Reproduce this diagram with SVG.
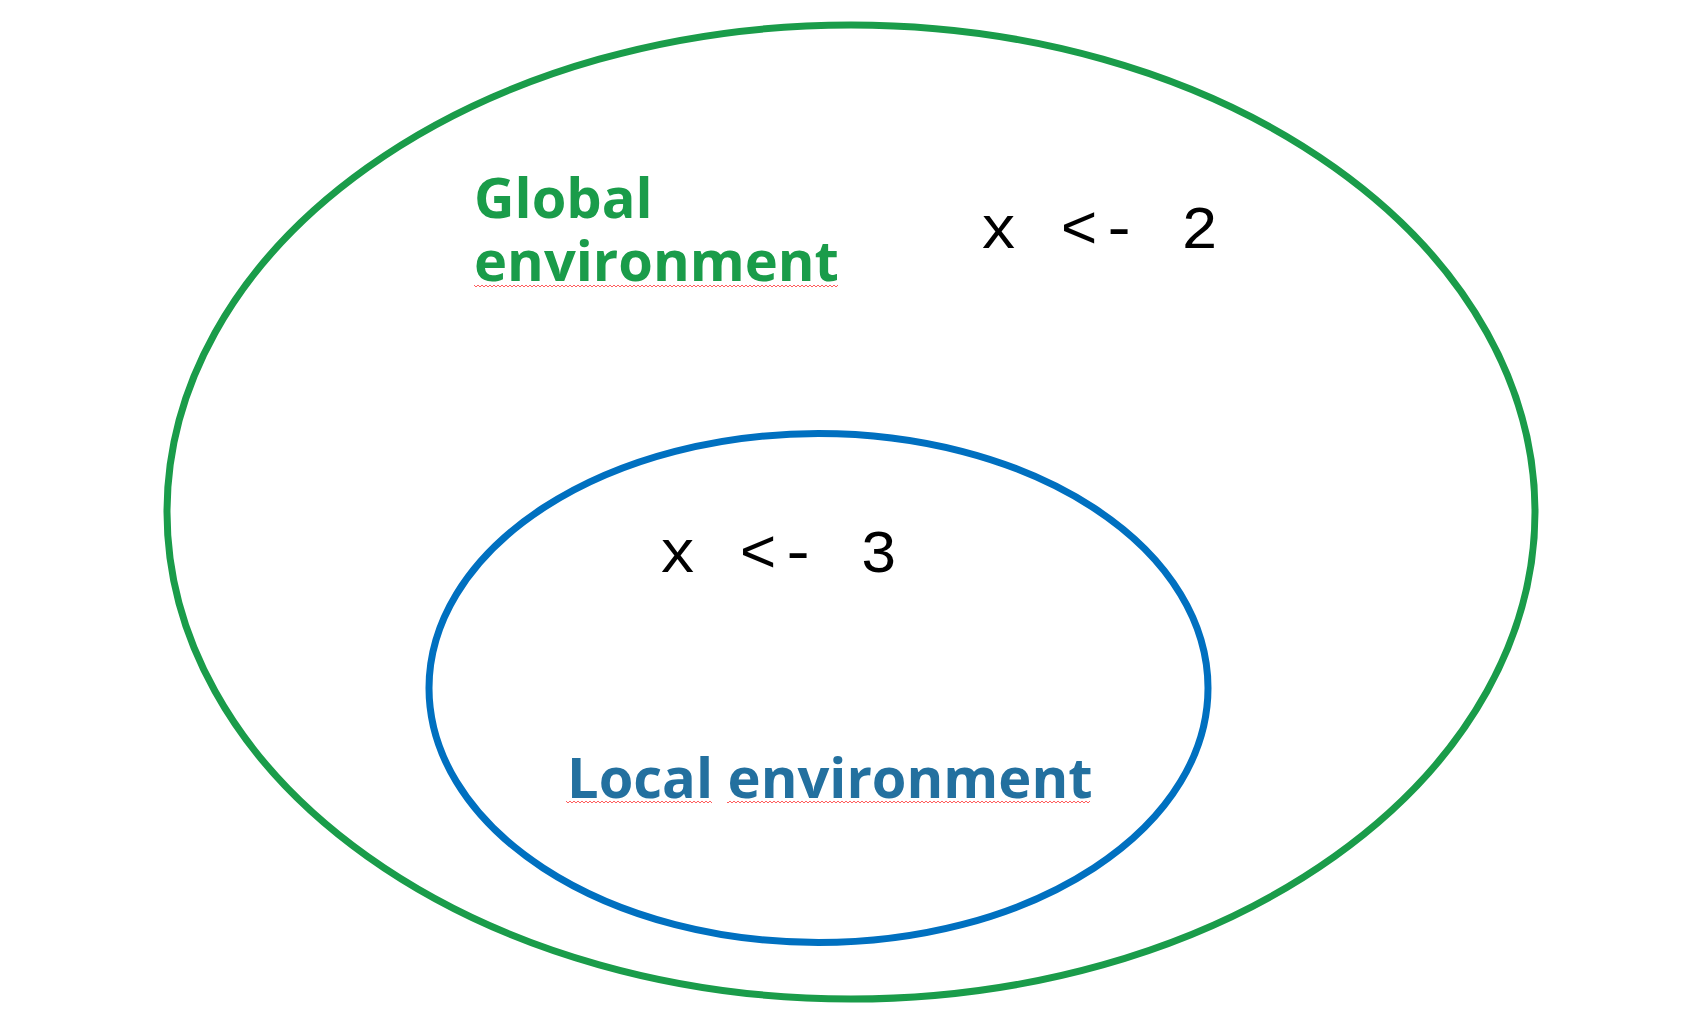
<svg xmlns="http://www.w3.org/2000/svg" width="1682" height="1030" viewBox="0 0 1682 1030">
<style>
.env{fill:none;stroke-width:7}
.lbl{font-family:"Open Sans","Liberation Sans",sans-serif;font-weight:bold;font-size:56px}
.code{font-family:"Liberation Mono","Courier New",monospace;font-size:62px;letter-spacing:3px;fill:#000}
.sq{fill:url(#squig)}
</style>
<defs>
<pattern id="squig" x="0" y="0" width="4" height="4" patternUnits="userSpaceOnUse">
<path d="M0,3 L2,1 L4,3" fill="none" stroke="#ff4b4b" stroke-width="0.9"/>
</pattern>
</defs>
<rect width="1682" height="1030" fill="#fff"/>
<g id="global">
<ellipse class="env" cx="851" cy="512" rx="684" ry="487" stroke="#1A9C4A"/>
<text class="lbl" x="474" y="218" fill="#1A9C4A">Global</text>
<text class="lbl" x="474" y="281" fill="#1A9C4A">environment</text>
<rect class="sq" x="474" y="285" width="364" height="4"/>
<text class="code" x="980" y="248">x &lt;- 2</text>
</g>
<g id="local">
<ellipse class="env" cx="818.5" cy="688" rx="389.5" ry="254.5" stroke="#0070C0"/>
<text class="code" x="659" y="572">x &lt;- 3</text>
<text class="lbl" x="567" y="798" fill="#23709F">Local environment</text>
<rect class="sq" x="566" y="799" width="146" height="4"/>
<rect class="sq" x="727" y="799" width="363" height="4"/>
</g>
<g id="connectors"/>
</svg>
